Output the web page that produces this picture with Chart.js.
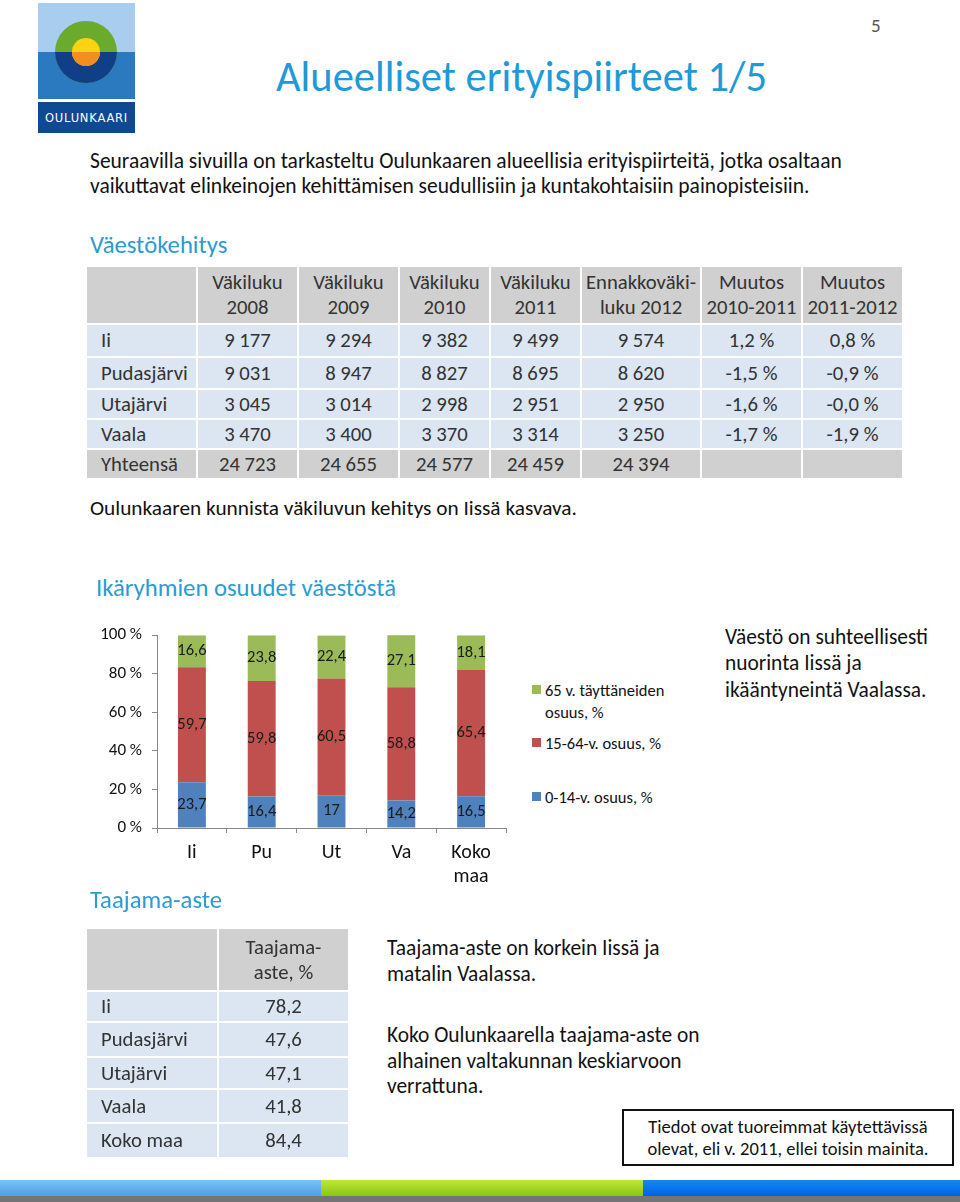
<!DOCTYPE html>
<html lang="fi">
<head>
<meta charset="utf-8">
<script src="https://cdn.jsdelivr.net/npm/chart.js@4.4.1/dist/chart.umd.min.js"></script>
<style>
  html,body{margin:0;padding:0;background:#fff;}
  body{width:960px;height:1202px;position:relative;overflow:hidden;font-family:Carlito,Calibri,Lato,sans-serif;color:#111;}
  .t{position:absolute;white-space:nowrap;}
  .cell{position:absolute;box-sizing:border-box;display:flex;align-items:center;font-size:20.7px;color:#333;line-height:25px;}
  .c{justify-content:center;text-align:center;}
  .l{padding-left:14px;}
  .h{color:#2a9bd3;}
  .leg{position:absolute;font-size:16.5px;line-height:22px;color:#111;white-space:normal;}
  .leg i{position:absolute;left:-13px;top:6px;width:9px;height:9px;}
</style>
</head>
<body>

<!-- Logo -->
<svg style="position:absolute;left:38px;top:3px" width="97" height="130" viewBox="0 0 97 130">
  <rect x="0" y="0" width="97" height="49" fill="#a8cdee"/>
  <rect x="0" y="49" width="97" height="47" fill="#2b79bf"/>
  <rect x="0" y="99" width="97" height="31" fill="#0f4893"/>
  <circle cx="48" cy="49" r="31" fill="#6aab2d"/>
  <path d="M17,49 A31,31 0 0 0 79,49 Z" fill="#103f87"/>
  <circle cx="48" cy="49" r="14" fill="#fcd213"/>
  <path d="M34,49 A14,14 0 0 0 62,49 Z" fill="#f68d1f"/>
  <text x="48.5" y="119" text-anchor="middle" fill="#fff" font-size="11.5" font-family="DejaVu Sans, sans-serif" letter-spacing="0.8">OULUNKAARI</text>
</svg>

<div class="t" style="left:871px;top:14px;font-size:19px;line-height:24px;color:#555;">5</div>
<div class="t h" style="left:276px;top:52px;font-size:42.5px;line-height:50px;color:#1f9ad8;">Alueelliset erityispiirteet 1/5</div>

<div class="t" style="left:90px;top:149px;font-size:21.5px;line-height:25px;">Seuraavilla sivuilla on tarkasteltu Oulunkaaren alueellisia erityispiirteitä, jotka osaltaan<br>vaikuttavat elinkeinojen kehittämisen seudullisiin ja kuntakohtaisiin painopisteisiin.</div>

<div class="t h" style="left:90px;top:230px;font-size:24.7px;line-height:30px;">Väestökehitys</div>

<div id="tbl1"></div>

<div class="t" style="left:90px;top:495px;font-size:21.3px;line-height:26px;">Oulunkaaren kunnista väkiluvun kehitys on Iissä kasvava.</div>

<div class="t h" style="left:96px;top:573px;font-size:24.7px;line-height:30px;">Ikäryhmien osuudet väestöstä</div>

<div style="position:absolute;left:90px;top:615px;width:430px;height:280px;">
  <canvas id="chart" width="430" height="280"></canvas>
</div>
<div id="legend"></div>

<div class="t" style="left:725px;top:624px;font-size:21.4px;line-height:26.3px;">Väestö on suhteellisesti<br>nuorinta Iissä ja<br>ikääntyneintä Vaalassa.</div>

<div class="t h" style="left:90px;top:885px;font-size:24.7px;line-height:30px;">Taajama-aste</div>

<div id="tbl2"></div>

<div class="t" style="left:387px;top:935px;font-size:21.4px;line-height:26px;">Taajama-aste on korkein Iissä ja<br>matalin Vaalassa.</div>
<div class="t" style="left:387px;top:1023px;font-size:21.4px;line-height:25.5px;">Koko Oulunkaarella taajama-aste on<br>alhainen valtakunnan keskiarvoon<br>verrattuna.</div>

<div style="position:absolute;left:622px;top:1109px;width:332px;height:57px;box-sizing:border-box;border:2px solid #111;font-size:18.5px;line-height:22px;text-align:center;padding-top:5px;white-space:nowrap;">Tiedot ovat tuoreimmat käytettävissä<br>olevat, eli v. 2011, ellei toisin mainita.</div>

<!-- bottom stripe -->
<div style="position:absolute;left:0;top:1180px;width:321px;height:16px;background:linear-gradient(#7cc2f4,#4c9fe6);"></div>
<div style="position:absolute;left:321px;top:1180px;width:322px;height:16px;background:linear-gradient(#bfe63a,#8ac70f);"></div>
<div style="position:absolute;left:643px;top:1180px;width:317px;height:16px;background:linear-gradient(#1488f2,#0062e4);"></div>
<div style="position:absolute;left:0;top:1196px;width:960px;height:6px;background:#747474;"></div>

<script>
// ---------- Data ----------
const popHeaders = [["Väkiluku","2008"],["Väkiluku","2009"],["Väkiluku","2010"],["Väkiluku","2011"],["Ennakkoväki-","luku 2012"],["Muutos","2010-2011"],["Muutos","2011-2012"]];
const popAreas = ["Ii","Pudasjärvi","Utajärvi","Vaala","Yhteensä"];
const pop2008 = [9177, 9031, 3045, 3470, 24723];
const pop2009 = [9294, 8947, 3014, 3400, 24655];
const pop2010 = [9382, 8827, 2998, 3370, 24577];
const pop2011 = [9499, 8695, 2951, 3314, 24459];
const pop2012 = [9574, 8620, 2950, 3250, 24394];
const change1011 = ["1,2 %","-1,5 %","-1,6 %","-1,7 %",""];
const change1112 = ["0,8 %","-0,9 %","-0,0 %","-1,9 %",""];

const ageCategories = ["Ii","Pu","Ut","Va",["Koko","maa"]];
const seriesNames = ["0-14-v. osuus, %","15-64-v. osuus, %","65 v. täyttäneiden osuus, %"];
const share0to14 = [23.7, 16.4, 17, 14.2, 16.5];
const share15to64 = [59.7, 59.8, 60.5, 58.8, 65.4];
const share65plus = [16.6, 23.8, 22.4, 27.1, 18.1];
const yTickStep = 20;

const urbanHeader = ["Taajama-","aste, %"];
const urbanAreas = ["Ii","Pudasjärvi","Utajärvi","Vaala","Koko maa"];
const urbanRate = [78.2, 47.6, 47.1, 41.8, 84.4];

// ---------- Helpers ----------
const fmtInt = n => String(n).replace(/\B(?=(\d{3})+(?!\d))/g, " ");
const fmtDec = n => String(n).replace(".", ",");

function buildTable(host, colX, rowY, rows, styles) {
  rows.forEach((row, r) => {
    row.forEach((txt, c) => {
      const d = document.createElement("div");
      d.className = "cell " + (c === 0 ? "l" : "c");
      d.style.left = colX[c] + "px";
      d.style.top = rowY[r] + "px";
      d.style.width = (colX[c + 1] - colX[c] - 2) + "px";
      d.style.height = (rowY[r + 1] - rowY[r] - 2) + "px";
      d.style.background = styles[r];
      d.style.whiteSpace = "nowrap";
      d.innerHTML = txt;
      host.appendChild(d);
    });
  });
}

// Table 1
const t1rows = [["", ...popHeaders.map(h => h.join("<br>"))]];
popAreas.forEach((a, i) => {
  t1rows.push([a, fmtInt(pop2008[i]), fmtInt(pop2009[i]), fmtInt(pop2010[i]), fmtInt(pop2011[i]), fmtInt(pop2012[i]), change1011[i], change1112[i]]);
});
const gray = "#d0d0d0", blue = "#dce6f2";
buildTable(document.getElementById("tbl1"),
  [87,198,299,400,491,582,702,803,904],
  [267,325,358,390,420,450,480],
  t1rows, [gray, blue, blue, blue, blue, gray]);

// Table 2
const t2rows = [["", urbanHeader.join("<br>")]];
urbanAreas.forEach((a, i) => t2rows.push([a, fmtDec(urbanRate[i])]));
buildTable(document.getElementById("tbl2"),
  [87,219,350],
  [929,992,1023,1058,1090,1124,1159],
  t2rows, [gray, blue, blue, blue, blue, blue]);

// ---------- Chart ----------
const colors = ["#4f81bd", "#c0504d", "#9bbb59"];
const FONT = "Carlito, Calibri, Lato, sans-serif";
Chart.defaults.font.family = FONT;

const labelPlugin = {
  id: "barLabels",
  afterDatasetsDraw(chart) {
    const ctx = chart.ctx;
    ctx.save();
    ctx.font = "16.5px " + FONT;
    ctx.fillStyle = "#1a1a1a";
    ctx.textAlign = "center";
    ctx.textBaseline = "middle";
    chart.data.datasets.forEach((ds, i) => {
      chart.getDatasetMeta(i).data.forEach((bar, j) => {
        ctx.fillText(fmtDec(ds.data[j]), bar.x, (bar.y + bar.base) / 2);
      });
    });
    ctx.restore();
  }
};

const seriesData = [share0to14, share15to64, share65plus];
new Chart(document.getElementById("chart"), {
  type: "bar",
  data: {
    labels: ageCategories,
    datasets: seriesData.map((d, i) => ({
      label: seriesNames[i], data: d, backgroundColor: colors[i],
      barPercentage: 0.4, categoryPercentage: 1.0
    }))
  },
  options: {
    responsive: false, animation: false,
    layout: { padding: { top: 13, right: 14, left: 0, bottom: 0 } },
    plugins: { legend: { display: false }, tooltip: { enabled: false } },
    scales: {
      x: {
        stacked: true,
        grid: { drawOnChartArea: false, drawTicks: true, tickLength: 5, color: "#888", offset: true },
        border: { display: true, color: "#888" },
        ticks: { color: "#111", font: { size: 20, lineHeight: 1.2 }, padding: 8, maxRotation: 0 },
        afterFit(s) { s.height = 67; }
      },
      y: {
        stacked: true, min: 0, max: 100,
        grid: { drawOnChartArea: false, drawTicks: true, tickLength: 5, color: "#888" },
        border: { display: true, color: "#888" },
        ticks: { stepSize: yTickStep, color: "#111", font: { size: 17 }, padding: 10, callback: v => v + " %" },
        afterFit(s) { s.width = 67; }
      }
    }
  },
  plugins: [labelPlugin]
});

// HTML legend (top to bottom: 65+, 15-64, 0-14)
const legendTops = [786, 732, 679];
const legHost = document.getElementById("legend");
[2, 1, 0].forEach(i => {
  const d = document.createElement("div");
  d.className = "leg";
  d.style.left = "545px";
  d.style.top = legendTops[i] + "px";
  d.style.width = "140px";
  d.innerHTML = '<i style="background:' + colors[i] + '"></i>' + seriesNames[i];
  legHost.appendChild(d);
});
</script>
</body>
</html>
